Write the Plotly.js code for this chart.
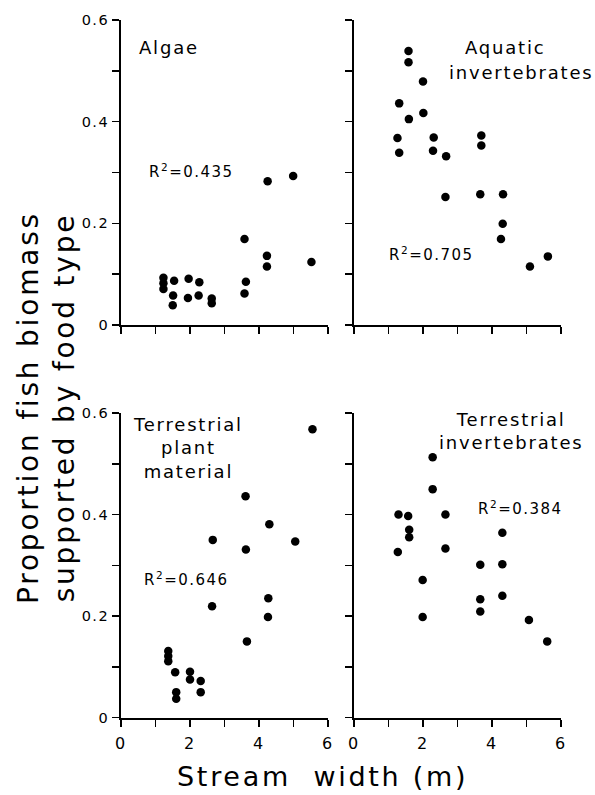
<!DOCTYPE html>
<html>
<head>
<meta charset="utf-8">
<script src="https://cdn.plot.ly/plotly-3.0.1.min.js"></script>
<style>
html,body{margin:0;padding:0;background:#fff;}
#chart{width:595px;height:795px;}
text{letter-spacing:0.1em;}
</style>
</head>
<body>
<div id="chart"></div>
<script>
// ---- data (stream width in m, proportion of fish biomass) ----
const algaeX = [1.23,1.23,1.23,1.54,1.51,1.50,1.96,1.94,2.27,2.25,2.63,2.63,3.58,3.62,3.58,4.25,4.23,4.23,4.99,5.52];
const algaeY = [0.093,0.082,0.071,0.087,0.058,0.039,0.091,0.053,0.084,0.058,0.052,0.043,0.169,0.085,0.062,0.283,0.136,0.115,0.293,0.124];

const aquaticX = [1.58,1.58,2.00,1.31,2.01,1.59,1.26,1.31,2.31,2.29,2.67,2.65,3.69,3.69,3.66,4.32,4.31,4.26,5.10,5.62];
const aquaticY = [0.539,0.517,0.479,0.436,0.417,0.405,0.368,0.339,0.369,0.343,0.332,0.252,0.373,0.353,0.257,0.257,0.199,0.169,0.115,0.135];

const plantX = [5.55,3.61,4.30,2.66,5.05,3.62,4.27,2.64,4.26,3.65,1.37,1.37,1.37,1.57,2.00,2.00,2.31,2.31,1.60,1.60];
const plantY = [0.568,0.436,0.381,0.350,0.347,0.331,0.235,0.219,0.198,0.150,0.131,0.121,0.111,0.089,0.090,0.075,0.072,0.050,0.050,0.037];

const terrInvX = [2.28,2.28,1.29,1.57,1.60,1.60,2.65,1.27,2.65,1.99,1.99,4.30,3.66,4.30,3.66,3.66,4.30,5.07,5.60];
const terrInvY = [0.513,0.450,0.400,0.397,0.370,0.355,0.400,0.326,0.333,0.271,0.198,0.364,0.301,0.302,0.233,0.209,0.240,0.192,0.150];

const xTickVals = [0,2,4,6];
const xTickText = ["0","2","4","6"];
const yTickVals = [0,0.2,0.4,0.6];
const yTickText = ["0","0.2","0.4","0.6"];

const panelLabels = ["Algae","Aquatic","invertebrates","Terrestrial<br>plant<br>material","Terrestrial<br>invertebrates"];
const r2Labels = ["R<sup>2</sup>=0.435","R<sup>2</sup>=0.705","R<sup>2</sup>=0.646","R<sup>2</sup>=0.384"];
const xTitle = "Stream  width (m)";
const yTitle = "Proportion fish biomass<br>supported by food type";

const FONT = "DejaVu Sans";
const W = 595, H = 795;

function mk(x, y, xa, ya) {
  return {x: x, y: y, xaxis: xa, yaxis: ya, type: 'scatter', mode: 'markers',
          marker: {color: '#000', size: 8.5}, hoverinfo: 'none', showlegend: false};
}
const data = [
  mk(algaeX, algaeY, 'x', 'y'),
  mk(aquaticX, aquaticY, 'x2', 'y2'),
  mk(plantX, plantY, 'x3', 'y3'),
  mk(terrInvX, terrInvY, 'x4', 'y4')
];

const tickStyle = {ticks: 'outside', ticklen: 7, tickwidth: 1.5, tickcolor: '#000'};
function xax(dom, anchor, labels) {
  return Object.assign({domain: dom, anchor: anchor, range: [0,6], showline: true, linecolor: '#000', linewidth: 2,
          tickmode: 'array', tickvals: xTickVals, ticktext: xTickText, showticklabels: labels,
          minor: Object.assign({dtick: 1, tick0: 0}, tickStyle), ticklabelstandoff: 3,
          showgrid: false, zeroline: false, fixedrange: true,
          tickfont: {family: FONT, size: 16, color: '#000'}}, tickStyle);
}
function yax(dom, anchor, labels) {
  return Object.assign({domain: dom, anchor: anchor, range: [0,0.6], showline: true, linecolor: '#000', linewidth: 2,
          tickmode: 'array', tickvals: yTickVals, ticktext: yTickText, showticklabels: labels,
          minor: Object.assign({dtick: 0.1, tick0: 0}, tickStyle),
          showgrid: false, zeroline: false, fixedrange: true,
          tickfont: {family: FONT, size: 14.5, color: '#000'}}, tickStyle);
}
const xL = [121/W, 328/W], xR = [354/W, 561/W];
const yT = [1-325/H, 1-20/H], yB = [1-717.5/H, 1-413/H];

function ann(text, xref, yref, x, y, xanchor, size) {
  return {text: text, xref: xref, yref: yref, x: x, y: y, xanchor: xanchor, yanchor: 'middle',
          showarrow: false, align: 'center', font: {family: FONT, size: size, color: '#000'}};
}

const annotations = [
  ann(panelLabels[0], 'x', 'y', 0.46, 0.545, 'left', 18),
  ann(r2Labels[0], 'x', 'y', 0.75, 0.302, 'left', 15),
  ann(panelLabels[1], 'x2', 'y2', 4.37, 0.545, 'center', 18),
  ann(panelLabels[2], 'x2', 'y2', 4.84, 0.497, 'center', 18),
  ann(r2Labels[1], 'x2', 'y2', 0.96, 0.140, 'left', 15),
  ann(panelLabels[3], 'x3', 'y3', 1.93, 0.532, 'center', 18),
  ann(r2Labels[2], 'x3', 'y3', 0.61, 0.273, 'left', 15),
  ann(panelLabels[4], 'x4', 'y4', 4.55, 0.565, 'center', 18),
  ann(r2Labels[3], 'x4', 'y4', 3.55, 0.412, 'left', 15),
  {text: xTitle, xref: 'paper', yref: 'paper', x: 322/W, y: 1-776/H,
   xanchor: 'center', yanchor: 'middle', showarrow: false, font: {family: FONT, size: 27, color: '#000'}},
  {text: yTitle, xref: 'paper', yref: 'paper', x: 46/W, y: 1-408/H,
   xanchor: 'center', yanchor: 'middle', textangle: -90, showarrow: false, align: 'center',
   font: {family: FONT, size: 28, color: '#000'}}
];

const layout = {
  width: W, height: H, margin: {l: 0, r: 0, t: 0, b: 0},
  paper_bgcolor: '#fff', plot_bgcolor: '#fff', showlegend: false,
  xaxis: xax(xL, 'y', false), yaxis: yax(yT, 'x', true),
  xaxis2: xax(xR, 'y2', false), yaxis2: yax(yT, 'x2', false),
  xaxis3: xax(xL, 'y3', true), yaxis3: yax(yB, 'x3', true),
  xaxis4: xax(xR, 'y4', true), yaxis4: yax(yB, 'x4', false),
  annotations: annotations
};
Plotly.newPlot('chart', data, layout, {staticPlot: true, displayModeBar: false});
</script>
</body>
</html>
